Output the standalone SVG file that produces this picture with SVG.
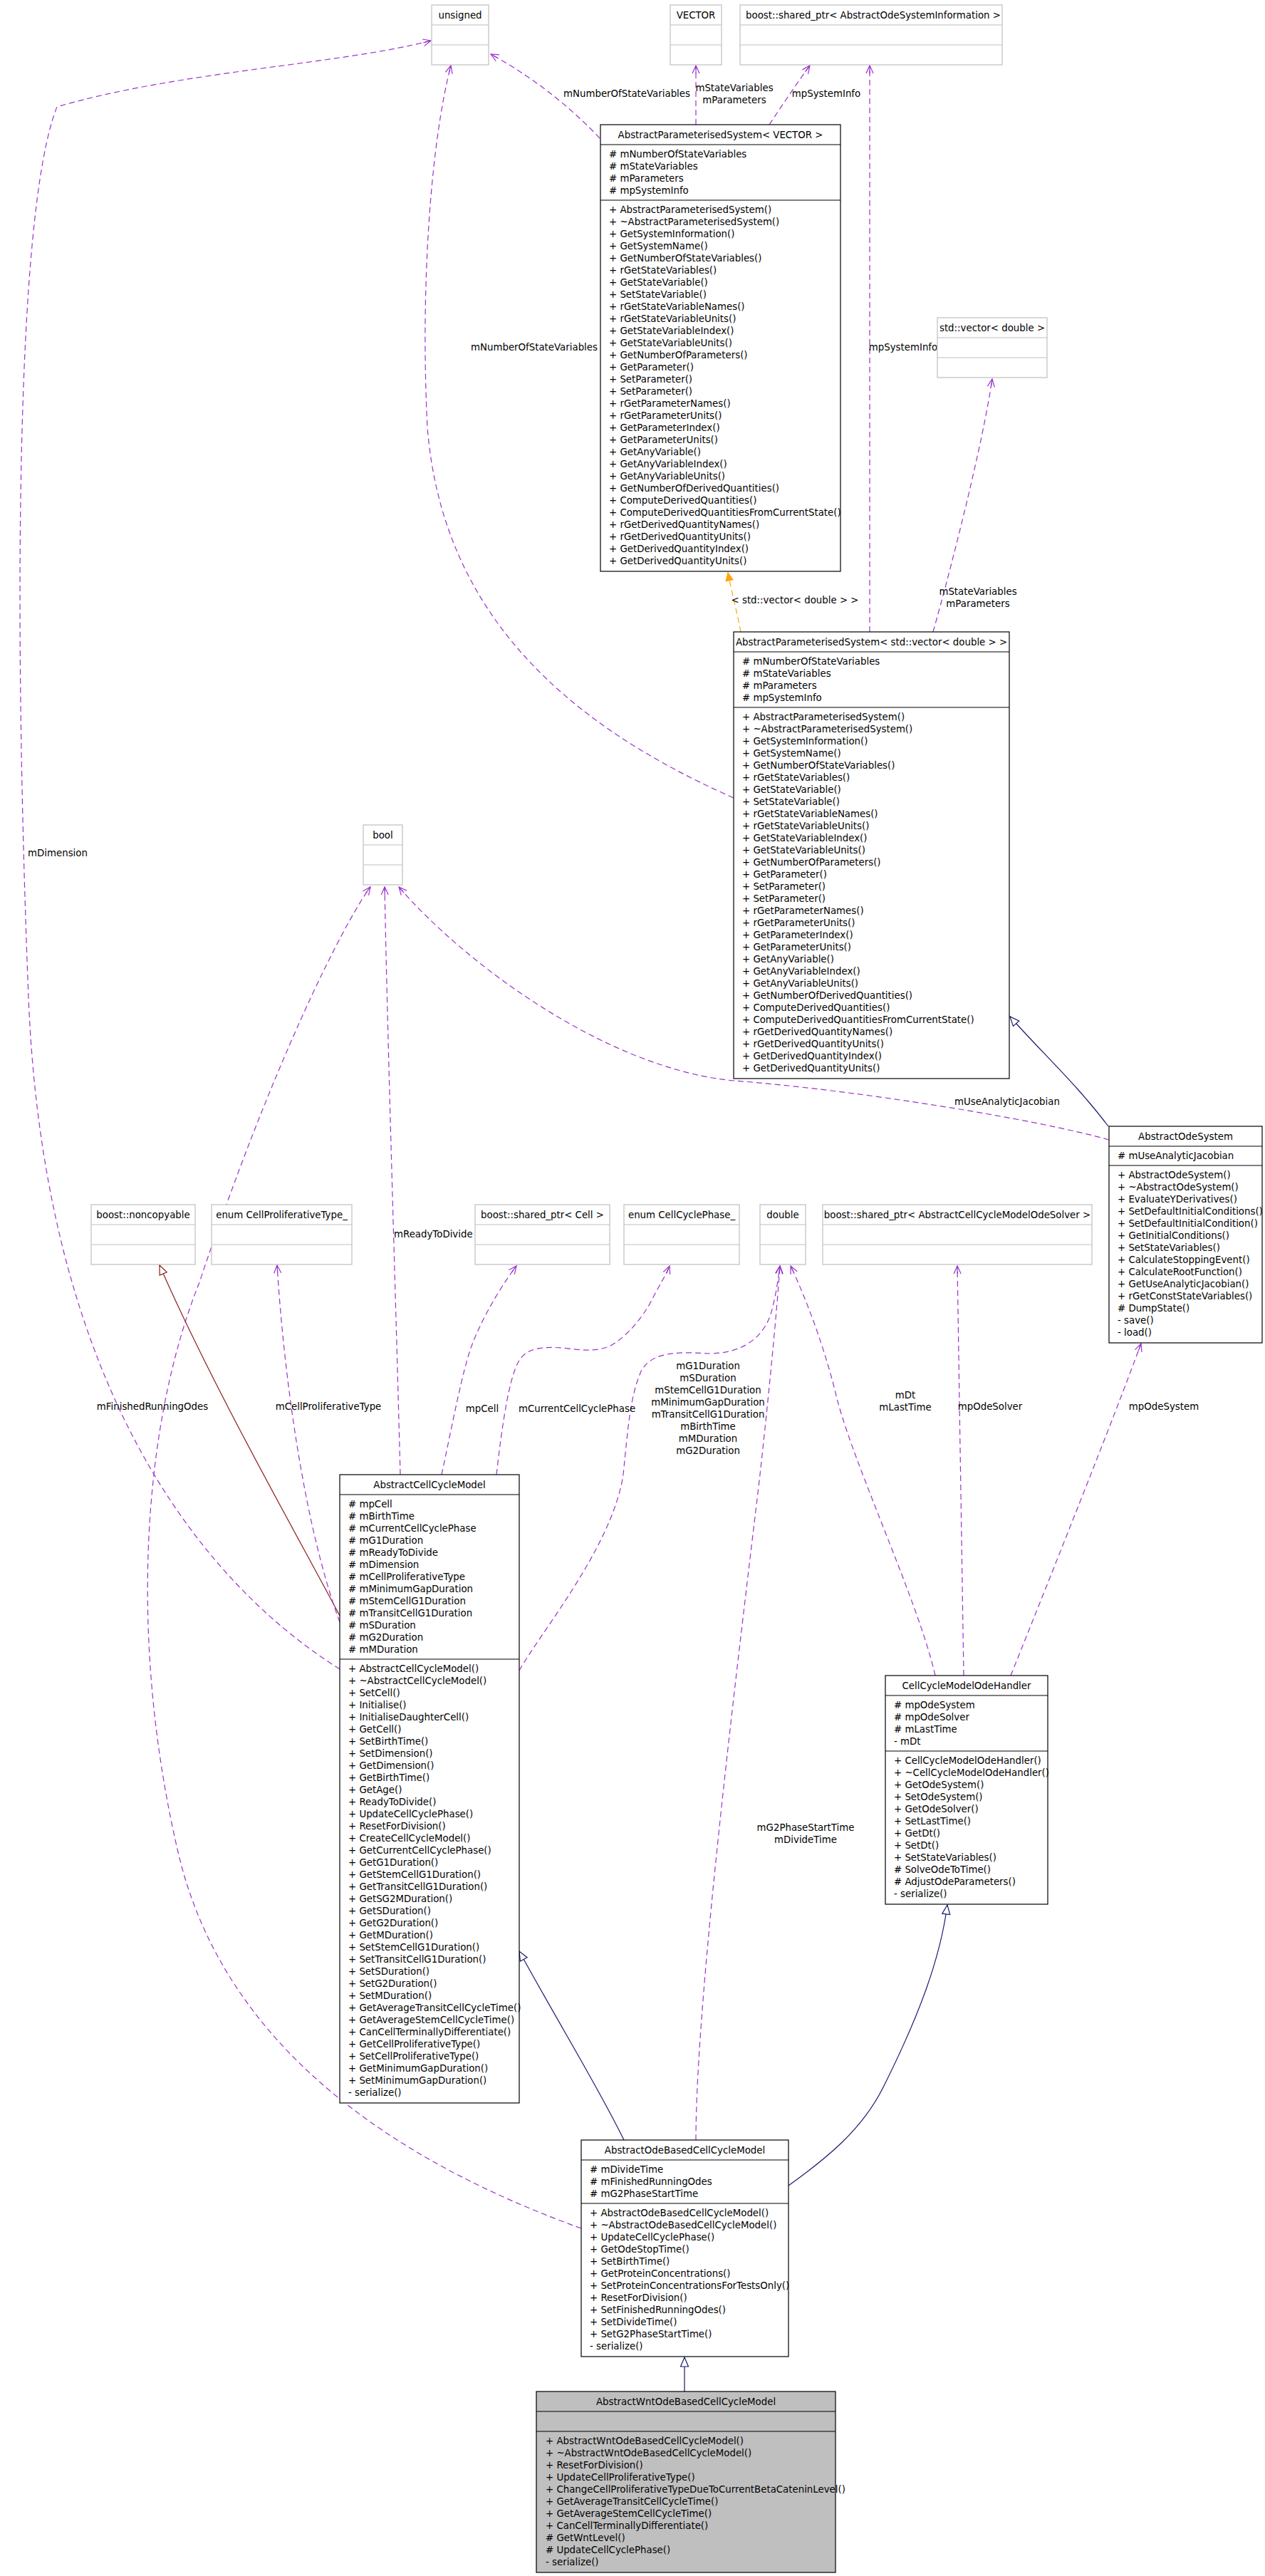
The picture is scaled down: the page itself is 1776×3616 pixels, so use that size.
<svg xmlns="http://www.w3.org/2000/svg" width="1776" height="3616" viewBox="0 0 1776 3616">
<style>
.bg{fill:#fff}
.box{fill:#fff;stroke:#000;stroke-width:1.2}
.gray{fill:#bfbfbf;stroke:#000;stroke-width:1.2}
.ext{fill:#fff;stroke:#bfbfbf;stroke-width:1.2}
.dv{stroke:#000;stroke-width:1.2}
.dvx{stroke:#bfbfbf;stroke-width:1.2}
text{font-family:"DejaVu Sans","Liberation Sans",sans-serif;font-size:13.33px;fill:#000}
.c{text-anchor:middle}
.use{fill:none;stroke:#9a32cd;stroke-width:1.2;stroke-dasharray:8,5}
.tmpl{fill:none;stroke:#ffa500;stroke-width:1.2;stroke-dasharray:8,5}
.inh{fill:none;stroke:#191970;stroke-width:1.2}
.priv{fill:none;stroke:#8b1a1a;stroke-width:1.2}
</style>
<defs>
<marker id="vp" markerWidth="14" markerHeight="12" refX="12" refY="6" orient="auto" markerUnits="userSpaceOnUse"><path d="M1,1 L12,6 L1,11 M12,6 L1,6" fill="none" stroke="#9a32cd" stroke-width="1.2"/></marker>
<marker id="vo" markerWidth="14" markerHeight="12" refX="12" refY="6" orient="auto" markerUnits="userSpaceOnUse"><path d="M1,1 L12,6 L1,11 Z" fill="#ffa500" stroke="#ffa500" stroke-width="1.2"/></marker>
<marker id="tb" markerWidth="16" markerHeight="14" refX="14" refY="7" orient="auto" markerUnits="userSpaceOnUse"><path d="M1,1.5 L14,7 L1,12.5 Z" fill="#fff" stroke="#191970" stroke-width="1.2"/></marker>
<marker id="tr" markerWidth="16" markerHeight="14" refX="14" refY="7" orient="auto" markerUnits="userSpaceOnUse"><path d="M1,1.5 L14,7 L1,12.5 Z" fill="#fff" stroke="#8b1a1a" stroke-width="1.2"/></marker>
</defs>
<rect class="bg" x="0" y="0" width="1776" height="3616"/>

<g id="edges">
<path class="use" d="M842,194 C810,160 760,115 689,76" marker-end="url(#vp)"/>
<path class="use" d="M977,175 L977,92" marker-end="url(#vp)"/>
<path class="use" d="M1080,175 C1100,145 1120,115 1137,92" marker-end="url(#vp)"/>
<path class="use" d="M1221,887 L1221,92" marker-end="url(#vp)"/>
<path class="use" d="M1030,1120 C780,1010 620,850 600,600 C590,400 605,200 633,92" marker-end="url(#vp)"/>
<path class="tmpl" d="M1040,887 C1035,860 1028,835 1022,804" marker-end="url(#vo)"/>
<path class="use" d="M1310,887 C1340,780 1380,620 1393,532" marker-end="url(#vp)"/>
<path class="inh" d="M1556,1581 C1510,1520 1460,1475 1418,1427" marker-end="url(#tb)"/>
<path class="use" d="M1557,1600 C1450,1570 1200,1530 1030,1517 C850,1500 650,1350 560,1245" marker-end="url(#vp)"/>
<path class="use" d="M562,2070 C555,1800 545,1500 540,1245" marker-end="url(#vp)"/>
<path class="use" d="M816,3128 C600,3050 320,2900 250,2600 C180,2300 200,2000 280,1800 C380,1500 480,1300 520,1245" marker-end="url(#vp)"/>
<path class="use" d="M477,2343 C250,2200 60,1900 40,1400 C20,900 20,300 80,150 C250,100 480,90 605,57" marker-end="url(#vp)"/>
<path class="priv" d="M477,2268 C420,2160 300,1950 224,1776" marker-end="url(#tr)"/>
<path class="use" d="M477,2277 C430,2150 400,1950 389,1776" marker-end="url(#vp)"/>
<path class="use" d="M620,2070 C635,2000 650,1920 663,1887 C675,1855 700,1810 725,1777" marker-end="url(#vp)"/>
<path class="use" d="M697,2070 C705,2000 715,1930 730,1908 C740,1893 760,1890 790,1892 C815,1895 835,1898 855,1890 C880,1878 905,1845 915,1825 C925,1805 935,1790 940,1777" marker-end="url(#vp)"/>
<path class="use" d="M729,2345 C760,2290 860,2170 875,2070 C882,2000 885,1960 900,1925 C915,1895 960,1898 995,1900 C1040,1900 1070,1880 1082,1845 C1088,1825 1092,1800 1095,1777" marker-end="url(#vp)"/>
<path class="use" d="M977,3004 C977,2800 1040,2300 1067,2070 C1078,1970 1090,1850 1095,1777" marker-end="url(#vp)"/>
<path class="use" d="M1313,2352 C1290,2250 1200,2060 1175,1963 C1160,1900 1135,1830 1110,1777" marker-end="url(#vp)"/>
<path class="use" d="M1353,2352 L1344,1777" marker-end="url(#vp)"/>
<path class="use" d="M1419,2352 C1480,2200 1560,2000 1602,1886" marker-end="url(#vp)"/>
<path class="inh" d="M876,3004 C840,2930 790,2850 729,2739" marker-end="url(#tb)"/>
<path class="inh" d="M1107,3068 C1160,3030 1210,2990 1240,2930 C1290,2830 1320,2750 1330,2674" marker-end="url(#tb)"/>
<path class="inh" d="M961,3357 L961,3309" marker-end="url(#tb)"/>
<text class="c" x="880" y="136">mNumberOfStateVariables</text>
<text class="c" x="1031" y="128">mStateVariables</text>
<text class="c" x="1031" y="145">mParameters</text>
<text class="c" x="1160" y="136">mpSystemInfo</text>
<text class="c" x="1268" y="492">mpSystemInfo</text>
<text class="c" x="750" y="492">mNumberOfStateVariables</text>
<text class="c" x="81" y="1202">mDimension</text>
<text class="c" x="1116" y="847">&lt; std::vector&lt; double &gt; &gt;</text>
<text class="c" x="1373" y="835">mStateVariables</text>
<text class="c" x="1373" y="852">mParameters</text>
<text class="c" x="1414" y="1551">mUseAnalyticJacobian</text>
<text x="553" y="1737">mReadyToDivide</text>
<text class="c" x="214" y="1979">mFinishedRunningOdes</text>
<text class="c" x="461" y="1979">mCellProliferativeType</text>
<text class="c" x="677" y="1982">mpCell</text>
<text class="c" x="810" y="1982">mCurrentCellCyclePhase</text>
<text class="c" x="994" y="1922"><tspan x="994" dy="0">mG1Duration</tspan><tspan x="994" dy="17">mSDuration</tspan><tspan x="994" dy="17">mStemCellG1Duration</tspan><tspan x="994" dy="17">mMinimumGapDuration</tspan><tspan x="994" dy="17">mTransitCellG1Duration</tspan><tspan x="994" dy="17">mBirthTime</tspan><tspan x="994" dy="17">mMDuration</tspan><tspan x="994" dy="17">mG2Duration</tspan></text>
<text class="c" x="1271" y="1963">mDt</text>
<text class="c" x="1271" y="1980">mLastTime</text>
<text class="c" x="1390" y="1979">mpOdeSolver</text>
<text class="c" x="1634" y="1979">mpOdeSystem</text>
<text class="c" x="1131" y="2570">mG2PhaseStartTime</text>
<text class="c" x="1131" y="2587">mDivideTime</text>
</g>

<g id="unsigned"><rect class="ext" x="606" y="7" width="80" height="84"/><line class="dvx" x1="606" y1="35" x2="686" y2="35"/><line class="dvx" x1="606" y1="63" x2="686" y2="63"/><text class="c" x="646" y="26">unsigned</text></g>
<g id="VECTOR"><rect class="ext" x="941" y="7" width="72" height="84"/><line class="dvx" x1="941" y1="35" x2="1013" y2="35"/><line class="dvx" x1="941" y1="63" x2="1013" y2="63"/><text class="c" x="977" y="26">VECTOR</text></g>
<g id="sharedptr_AOSI"><rect class="ext" x="1039" y="7" width="368" height="84"/><line class="dvx" x1="1039" y1="35" x2="1407" y2="35"/><line class="dvx" x1="1039" y1="63" x2="1407" y2="63"/><text class="c" x="1226" y="26">boost::shared_ptr&lt; AbstractOdeSystemInformation &gt;</text></g>
<g id="stdvector"><rect class="ext" x="1316" y="446" width="154" height="84"/><line class="dvx" x1="1316" y1="474" x2="1470" y2="474"/><line class="dvx" x1="1316" y1="502" x2="1470" y2="502"/><text class="c" x="1393" y="465">std::vector&lt; double &gt;</text></g>
<g id="bool"><rect class="ext" x="510" y="1158" width="55" height="84"/><line class="dvx" x1="510" y1="1186" x2="565" y2="1186"/><line class="dvx" x1="510" y1="1214" x2="565" y2="1214"/><text class="c" x="537.5" y="1177">bool</text></g>
<g id="noncopyable"><rect class="ext" x="128" y="1691" width="146" height="84"/><line class="dvx" x1="128" y1="1719" x2="274" y2="1719"/><line class="dvx" x1="128" y1="1747" x2="274" y2="1747"/><text class="c" x="201" y="1710">boost::noncopyable</text></g>
<g id="enumCPT"><rect class="ext" x="297" y="1691" width="197" height="84"/><line class="dvx" x1="297" y1="1719" x2="494" y2="1719"/><line class="dvx" x1="297" y1="1747" x2="494" y2="1747"/><text class="c" x="395.5" y="1710">enum CellProliferativeType_</text></g>
<g id="sharedptr_Cell"><rect class="ext" x="667" y="1691" width="189" height="84"/><line class="dvx" x1="667" y1="1719" x2="856" y2="1719"/><line class="dvx" x1="667" y1="1747" x2="856" y2="1747"/><text class="c" x="761.5" y="1710">boost::shared_ptr&lt; Cell &gt;</text></g>
<g id="enumCCP"><rect class="ext" x="876" y="1691" width="162" height="84"/><line class="dvx" x1="876" y1="1719" x2="1038" y2="1719"/><line class="dvx" x1="876" y1="1747" x2="1038" y2="1747"/><text class="c" x="957" y="1710">enum CellCyclePhase_</text></g>
<g id="double"><rect class="ext" x="1067" y="1691" width="64" height="84"/><line class="dvx" x1="1067" y1="1719" x2="1131" y2="1719"/><line class="dvx" x1="1067" y1="1747" x2="1131" y2="1747"/><text class="c" x="1099" y="1710">double</text></g>
<g id="sharedptr_Solver"><rect class="ext" x="1155" y="1691" width="378" height="84"/><line class="dvx" x1="1155" y1="1719" x2="1533" y2="1719"/><line class="dvx" x1="1155" y1="1747" x2="1533" y2="1747"/><text class="c" x="1344" y="1710">boost::shared_ptr&lt; AbstractCellCycleModelOdeSolver &gt;</text></g>

<g id="APS_VECTOR"><rect class="box" x="843" y="175" width="337" height="627"/><line class="dv" x1="843" y1="203" x2="1180" y2="203"/><line class="dv" x1="843" y1="281" x2="1180" y2="281"/>
<text class="c" x="1011.5" y="194">AbstractParameterisedSystem&lt; VECTOR &gt;</text>
<text x="855" y="221"><tspan x="855" dy="0"># mNumberOfStateVariables</tspan><tspan x="855" dy="17"># mStateVariables</tspan><tspan x="855" dy="17"># mParameters</tspan><tspan x="855" dy="17"># mpSystemInfo</tspan></text>
<text x="855" y="299"><tspan x="855" dy="0">+ AbstractParameterisedSystem()</tspan><tspan x="855" dy="17">+ ~AbstractParameterisedSystem()</tspan><tspan x="855" dy="17">+ GetSystemInformation()</tspan><tspan x="855" dy="17">+ GetSystemName()</tspan><tspan x="855" dy="17">+ GetNumberOfStateVariables()</tspan><tspan x="855" dy="17">+ rGetStateVariables()</tspan><tspan x="855" dy="17">+ GetStateVariable()</tspan><tspan x="855" dy="17">+ SetStateVariable()</tspan><tspan x="855" dy="17">+ rGetStateVariableNames()</tspan><tspan x="855" dy="17">+ rGetStateVariableUnits()</tspan><tspan x="855" dy="17">+ GetStateVariableIndex()</tspan><tspan x="855" dy="17">+ GetStateVariableUnits()</tspan><tspan x="855" dy="17">+ GetNumberOfParameters()</tspan><tspan x="855" dy="17">+ GetParameter()</tspan><tspan x="855" dy="17">+ SetParameter()</tspan><tspan x="855" dy="17">+ SetParameter()</tspan><tspan x="855" dy="17">+ rGetParameterNames()</tspan><tspan x="855" dy="17">+ rGetParameterUnits()</tspan><tspan x="855" dy="17">+ GetParameterIndex()</tspan><tspan x="855" dy="17">+ GetParameterUnits()</tspan><tspan x="855" dy="17">+ GetAnyVariable()</tspan><tspan x="855" dy="17">+ GetAnyVariableIndex()</tspan><tspan x="855" dy="17">+ GetAnyVariableUnits()</tspan><tspan x="855" dy="17">+ GetNumberOfDerivedQuantities()</tspan><tspan x="855" dy="17">+ ComputeDerivedQuantities()</tspan><tspan x="855" dy="17">+ ComputeDerivedQuantitiesFromCurrentState()</tspan><tspan x="855" dy="17">+ rGetDerivedQuantityNames()</tspan><tspan x="855" dy="17">+ rGetDerivedQuantityUnits()</tspan><tspan x="855" dy="17">+ GetDerivedQuantityIndex()</tspan><tspan x="855" dy="17">+ GetDerivedQuantityUnits()</tspan></text></g>

<g id="APS_stdvector"><rect class="box" x="1030" y="887" width="387" height="627"/><line class="dv" x1="1030" y1="915" x2="1417" y2="915"/><line class="dv" x1="1030" y1="993" x2="1417" y2="993"/>
<text class="c" x="1223.5" y="906">AbstractParameterisedSystem&lt; std::vector&lt; double &gt; &gt;</text>
<text x="1042" y="933"><tspan x="1042" dy="0"># mNumberOfStateVariables</tspan><tspan x="1042" dy="17"># mStateVariables</tspan><tspan x="1042" dy="17"># mParameters</tspan><tspan x="1042" dy="17"># mpSystemInfo</tspan></text>
<text x="1042" y="1011"><tspan x="1042" dy="0">+ AbstractParameterisedSystem()</tspan><tspan x="1042" dy="17">+ ~AbstractParameterisedSystem()</tspan><tspan x="1042" dy="17">+ GetSystemInformation()</tspan><tspan x="1042" dy="17">+ GetSystemName()</tspan><tspan x="1042" dy="17">+ GetNumberOfStateVariables()</tspan><tspan x="1042" dy="17">+ rGetStateVariables()</tspan><tspan x="1042" dy="17">+ GetStateVariable()</tspan><tspan x="1042" dy="17">+ SetStateVariable()</tspan><tspan x="1042" dy="17">+ rGetStateVariableNames()</tspan><tspan x="1042" dy="17">+ rGetStateVariableUnits()</tspan><tspan x="1042" dy="17">+ GetStateVariableIndex()</tspan><tspan x="1042" dy="17">+ GetStateVariableUnits()</tspan><tspan x="1042" dy="17">+ GetNumberOfParameters()</tspan><tspan x="1042" dy="17">+ GetParameter()</tspan><tspan x="1042" dy="17">+ SetParameter()</tspan><tspan x="1042" dy="17">+ SetParameter()</tspan><tspan x="1042" dy="17">+ rGetParameterNames()</tspan><tspan x="1042" dy="17">+ rGetParameterUnits()</tspan><tspan x="1042" dy="17">+ GetParameterIndex()</tspan><tspan x="1042" dy="17">+ GetParameterUnits()</tspan><tspan x="1042" dy="17">+ GetAnyVariable()</tspan><tspan x="1042" dy="17">+ GetAnyVariableIndex()</tspan><tspan x="1042" dy="17">+ GetAnyVariableUnits()</tspan><tspan x="1042" dy="17">+ GetNumberOfDerivedQuantities()</tspan><tspan x="1042" dy="17">+ ComputeDerivedQuantities()</tspan><tspan x="1042" dy="17">+ ComputeDerivedQuantitiesFromCurrentState()</tspan><tspan x="1042" dy="17">+ rGetDerivedQuantityNames()</tspan><tspan x="1042" dy="17">+ rGetDerivedQuantityUnits()</tspan><tspan x="1042" dy="17">+ GetDerivedQuantityIndex()</tspan><tspan x="1042" dy="17">+ GetDerivedQuantityUnits()</tspan></text></g>

<g id="AbstractOdeSystem"><rect class="box" x="1557" y="1581" width="215" height="304"/><line class="dv" x1="1557" y1="1609" x2="1772" y2="1609"/><line class="dv" x1="1557" y1="1636" x2="1772" y2="1636"/>
<text class="c" x="1664.5" y="1600">AbstractOdeSystem</text>
<text x="1569" y="1627"># mUseAnalyticJacobian</text>
<text x="1569" y="1654"><tspan x="1569" dy="0">+ AbstractOdeSystem()</tspan><tspan x="1569" dy="17">+ ~AbstractOdeSystem()</tspan><tspan x="1569" dy="17">+ EvaluateYDerivatives()</tspan><tspan x="1569" dy="17">+ SetDefaultInitialConditions()</tspan><tspan x="1569" dy="17">+ SetDefaultInitialCondition()</tspan><tspan x="1569" dy="17">+ GetInitialConditions()</tspan><tspan x="1569" dy="17">+ SetStateVariables()</tspan><tspan x="1569" dy="17">+ CalculateStoppingEvent()</tspan><tspan x="1569" dy="17">+ CalculateRootFunction()</tspan><tspan x="1569" dy="17">+ GetUseAnalyticJacobian()</tspan><tspan x="1569" dy="17">+ rGetConstStateVariables()</tspan><tspan x="1569" dy="17"># DumpState()</tspan><tspan x="1569" dy="17">- save()</tspan><tspan x="1569" dy="17">- load()</tspan></text></g>

<g id="AbstractCellCycleModel"><rect class="box" x="477" y="2070" width="252" height="882"/><line class="dv" x1="477" y1="2098" x2="729" y2="2098"/><line class="dv" x1="477" y1="2329" x2="729" y2="2329"/>
<text class="c" x="603" y="2089">AbstractCellCycleModel</text>
<text x="489" y="2116"><tspan x="489" dy="0"># mpCell</tspan><tspan x="489" dy="17"># mBirthTime</tspan><tspan x="489" dy="17"># mCurrentCellCyclePhase</tspan><tspan x="489" dy="17"># mG1Duration</tspan><tspan x="489" dy="17"># mReadyToDivide</tspan><tspan x="489" dy="17"># mDimension</tspan><tspan x="489" dy="17"># mCellProliferativeType</tspan><tspan x="489" dy="17"># mMinimumGapDuration</tspan><tspan x="489" dy="17"># mStemCellG1Duration</tspan><tspan x="489" dy="17"># mTransitCellG1Duration</tspan><tspan x="489" dy="17"># mSDuration</tspan><tspan x="489" dy="17"># mG2Duration</tspan><tspan x="489" dy="17"># mMDuration</tspan></text>
<text x="489" y="2347"><tspan x="489" dy="0">+ AbstractCellCycleModel()</tspan><tspan x="489" dy="17">+ ~AbstractCellCycleModel()</tspan><tspan x="489" dy="17">+ SetCell()</tspan><tspan x="489" dy="17">+ Initialise()</tspan><tspan x="489" dy="17">+ InitialiseDaughterCell()</tspan><tspan x="489" dy="17">+ GetCell()</tspan><tspan x="489" dy="17">+ SetBirthTime()</tspan><tspan x="489" dy="17">+ SetDimension()</tspan><tspan x="489" dy="17">+ GetDimension()</tspan><tspan x="489" dy="17">+ GetBirthTime()</tspan><tspan x="489" dy="17">+ GetAge()</tspan><tspan x="489" dy="17">+ ReadyToDivide()</tspan><tspan x="489" dy="17">+ UpdateCellCyclePhase()</tspan><tspan x="489" dy="17">+ ResetForDivision()</tspan><tspan x="489" dy="17">+ CreateCellCycleModel()</tspan><tspan x="489" dy="17">+ GetCurrentCellCyclePhase()</tspan><tspan x="489" dy="17">+ GetG1Duration()</tspan><tspan x="489" dy="17">+ GetStemCellG1Duration()</tspan><tspan x="489" dy="17">+ GetTransitCellG1Duration()</tspan><tspan x="489" dy="17">+ GetSG2MDuration()</tspan><tspan x="489" dy="17">+ GetSDuration()</tspan><tspan x="489" dy="17">+ GetG2Duration()</tspan><tspan x="489" dy="17">+ GetMDuration()</tspan><tspan x="489" dy="17">+ SetStemCellG1Duration()</tspan><tspan x="489" dy="17">+ SetTransitCellG1Duration()</tspan><tspan x="489" dy="17">+ SetSDuration()</tspan><tspan x="489" dy="17">+ SetG2Duration()</tspan><tspan x="489" dy="17">+ SetMDuration()</tspan><tspan x="489" dy="17">+ GetAverageTransitCellCycleTime()</tspan><tspan x="489" dy="17">+ GetAverageStemCellCycleTime()</tspan><tspan x="489" dy="17">+ CanCellTerminallyDifferentiate()</tspan><tspan x="489" dy="17">+ GetCellProliferativeType()</tspan><tspan x="489" dy="17">+ SetCellProliferativeType()</tspan><tspan x="489" dy="17">+ GetMinimumGapDuration()</tspan><tspan x="489" dy="17">+ SetMinimumGapDuration()</tspan><tspan x="489" dy="17">- serialize()</tspan></text></g>

<g id="CellCycleModelOdeHandler"><rect class="box" x="1243" y="2352" width="228" height="321"/><line class="dv" x1="1243" y1="2380" x2="1471" y2="2380"/><line class="dv" x1="1243" y1="2458" x2="1471" y2="2458"/>
<text class="c" x="1357" y="2371">CellCycleModelOdeHandler</text>
<text x="1255" y="2398"><tspan x="1255" dy="0"># mpOdeSystem</tspan><tspan x="1255" dy="17"># mpOdeSolver</tspan><tspan x="1255" dy="17"># mLastTime</tspan><tspan x="1255" dy="17">- mDt</tspan></text>
<text x="1255" y="2476"><tspan x="1255" dy="0">+ CellCycleModelOdeHandler()</tspan><tspan x="1255" dy="17">+ ~CellCycleModelOdeHandler()</tspan><tspan x="1255" dy="17">+ GetOdeSystem()</tspan><tspan x="1255" dy="17">+ SetOdeSystem()</tspan><tspan x="1255" dy="17">+ GetOdeSolver()</tspan><tspan x="1255" dy="17">+ SetLastTime()</tspan><tspan x="1255" dy="17">+ GetDt()</tspan><tspan x="1255" dy="17">+ SetDt()</tspan><tspan x="1255" dy="17">+ SetStateVariables()</tspan><tspan x="1255" dy="17"># SolveOdeToTime()</tspan><tspan x="1255" dy="17"># AdjustOdeParameters()</tspan><tspan x="1255" dy="17">- serialize()</tspan></text></g>

<g id="AbstractOdeBasedCellCycleModel"><rect class="box" x="816" y="3004" width="291" height="304"/><line class="dv" x1="816" y1="3032" x2="1107" y2="3032"/><line class="dv" x1="816" y1="3093" x2="1107" y2="3093"/>
<text class="c" x="961.5" y="3023">AbstractOdeBasedCellCycleModel</text>
<text x="828" y="3050"><tspan x="828" dy="0"># mDivideTime</tspan><tspan x="828" dy="17"># mFinishedRunningOdes</tspan><tspan x="828" dy="17"># mG2PhaseStartTime</tspan></text>
<text x="828" y="3111"><tspan x="828" dy="0">+ AbstractOdeBasedCellCycleModel()</tspan><tspan x="828" dy="17">+ ~AbstractOdeBasedCellCycleModel()</tspan><tspan x="828" dy="17">+ UpdateCellCyclePhase()</tspan><tspan x="828" dy="17">+ GetOdeStopTime()</tspan><tspan x="828" dy="17">+ SetBirthTime()</tspan><tspan x="828" dy="17">+ GetProteinConcentrations()</tspan><tspan x="828" dy="17">+ SetProteinConcentrationsForTestsOnly()</tspan><tspan x="828" dy="17">+ ResetForDivision()</tspan><tspan x="828" dy="17">+ SetFinishedRunningOdes()</tspan><tspan x="828" dy="17">+ SetDivideTime()</tspan><tspan x="828" dy="17">+ SetG2PhaseStartTime()</tspan><tspan x="828" dy="17">- serialize()</tspan></text></g>

<g id="AbstractWntOdeBasedCellCycleModel"><rect class="gray" x="753" y="3357" width="420" height="254"/><line class="dv" x1="753" y1="3385" x2="1173" y2="3385"/><line class="dv" x1="753" y1="3413" x2="1173" y2="3413"/>
<text class="c" x="963" y="3376">AbstractWntOdeBasedCellCycleModel</text>
<text x="766" y="3431"><tspan x="766" dy="0">+ AbstractWntOdeBasedCellCycleModel()</tspan><tspan x="766" dy="17">+ ~AbstractWntOdeBasedCellCycleModel()</tspan><tspan x="766" dy="17">+ ResetForDivision()</tspan><tspan x="766" dy="17">+ UpdateCellProliferativeType()</tspan><tspan x="766" dy="17">+ ChangeCellProliferativeTypeDueToCurrentBetaCateninLevel()</tspan><tspan x="766" dy="17">+ GetAverageTransitCellCycleTime()</tspan><tspan x="766" dy="17">+ GetAverageStemCellCycleTime()</tspan><tspan x="766" dy="17">+ CanCellTerminallyDifferentiate()</tspan><tspan x="766" dy="17"># GetWntLevel()</tspan><tspan x="766" dy="17"># UpdateCellCyclePhase()</tspan><tspan x="766" dy="17">- serialize()</tspan></text></g>
</svg>
